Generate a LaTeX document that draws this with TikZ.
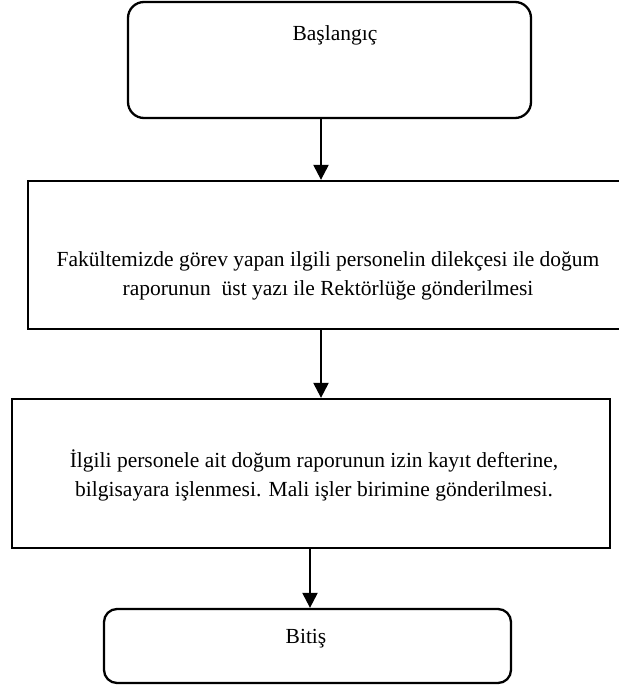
\documentclass[tikz,border=0pt]{standalone}
\usepackage{fontspec}
\setmainfont{Liberation Serif}
\usetikzlibrary{arrows.meta,calc}
\tikzset{
  boxline/.style={draw=black, line width=2.3pt, fill=white, inner sep=0pt},
  roundbox/.style={boxline, rounded corners=16pt},
  squarebox/.style={boxline},
  boxtext/.style={align=center, inner sep=0pt, font=\fontsize{21.5}{28.5}\selectfont},
  arr/.style={line width=2.3pt, -{Triangle[length=15pt,width=15pt]}}
}
\begin{document}
\begin{tikzpicture}[x=1pt,y=-1pt]
\useasboundingbox (0,0) rectangle (618,690);
% boxes (corner coordinates in px, y downward)
\node[roundbox, minimum width=403pt, minimum height=116pt] (b1) at (329.5,60) {};
\node[squarebox, minimum width=612pt, minimum height=148pt] (b2) at (334,255) {};
\node[squarebox, minimum width=598pt, minimum height=149pt] (b3) at (311,473.5) {};
\node[roundbox, rounded corners=13pt, minimum width=407pt, minimum height=74pt] (b4) at (307.5,646) {};
% texts
\node[boxtext] (t1) at (335,35) {Başlangıç};
\node[boxtext] (t2) at (328,276) {Fakültemizde görev yapan ilgili personelin dilekçesi ile doğum\\raporunun\ \ üst yazı ile Rektörlüğe gönderilmesi};
\node[boxtext] (t3) at (314,475.5) {İlgili personele ait doğum raporunun izin kayıt defterine,\\bilgisayara işlenmesi. Mali işler birimine gönderilmesi.};
\node[boxtext] (t4) at (306,639) {Bitiş};
% arrow columns
\coordinate (c1) at (321,0);
\coordinate (c3) at (310,0);
\draw[arr] (b1.south -| c1) -- (b2.north -| c1);
\draw[arr] (b2.south -| c1) -- (b3.north -| c1);
\draw[arr] (b3.south -| c3) -- (b4.north -| c3);
\end{tikzpicture}
\end{document}
